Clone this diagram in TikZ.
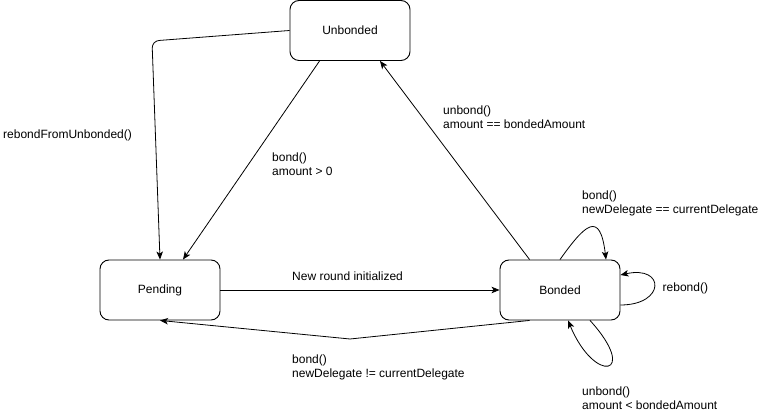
\documentclass[tikz,border=0pt]{standalone}
\usepackage{fontspec}
\setmainfont{Liberation Sans}
\usetikzlibrary{arrows.meta}
\begin{document}
\begin{tikzpicture}[x=1pt,y=-1pt,
  state/.style={draw,line width=0.9pt,rounded corners=9pt,minimum width=120pt,minimum height=60pt,inner sep=0pt,font=\fontsize{12}{14}\selectfont},
  conn/.style={line width=0.8pt,-{Stealth[length=8pt,width=6.5pt,inset=2pt]}},
  lbl/.style={anchor=west,align=left,inner sep=0pt,font=\fontsize{12}{14}\selectfont}]
\useasboundingbox (0,0) rectangle (771,411);
\node[state] (unb) at (350,30.5) {Unbonded};
\node[state] (pen) at (160,290) {Pending};
\node[state] (bon) at (560,290) {Bonded};
\coordinate (c1) at (152,41);
\coordinate (c2) at (350,339);
% connectors
\draw[conn,rounded corners=7pt] (unb.west) -- (c1) -- (pen.north);
\draw[conn] ([xshift=30pt]unb.south west) -- ([xshift=23pt]pen.north);
\draw[conn] ([xshift=30pt]bon.north west) -- ([xshift=30pt]unb.south);
\draw[conn] (pen.east) -- (bon.west);
\draw[conn] ([xshift=30pt]bon.south west) -- (c2) -- (pen.south);
\draw[conn] (bon.north) .. controls +(25,-35) and +(-6,-50) .. ([xshift=46pt]bon.north);
\draw[conn] ([yshift=-15pt]bon.east) .. controls +(45,0) and +(45,-10) .. ([yshift=15pt]bon.east);
\draw[conn] ([xshift=30pt]bon.south) .. controls +(50,55) and +(27,65) .. ([xshift=8pt]bon.south);
% labels
\node[lbl] (l1) at (3,135) {rebondFromUnbonded()};
\node[lbl] (l2) at (272,164) {bond()\\amount > 0};
\node[lbl] (l3) at (443,117) {unbond()\\amount == bondedAmount};
\node[lbl] (l4) at (292,276) {New round initialized};
\node[lbl] (l5) at (582,203.5) {bond()\\newDelegate == currentDelegate};
\node[lbl] (l6) at (662.5,288) {rebond()};
\node[lbl] (l7) at (582,398) {unbond()\\amount < bondedAmount};
\node[lbl] (l8) at (292,367) {bond()\\newDelegate != currentDelegate};
\end{tikzpicture}
\end{document}
